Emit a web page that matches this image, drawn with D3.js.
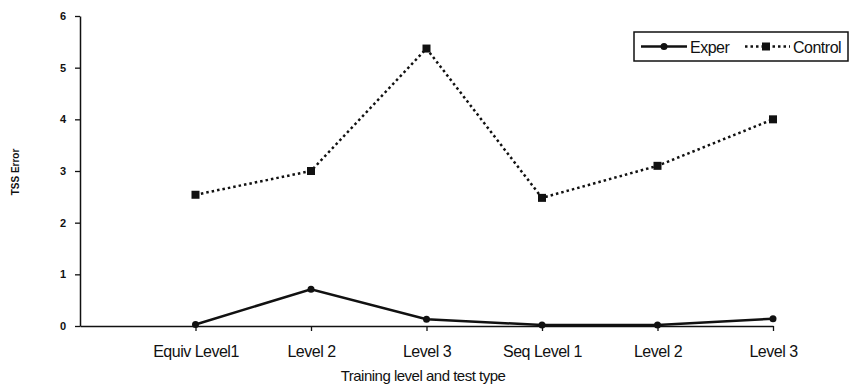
<!DOCTYPE html>
<html>
<head>
<meta charset="utf-8">
<script src="https://cdn.jsdelivr.net/npm/d3@7"></script>
<style>
body { margin: 0; background: #fff; }
text { font-family: "Liberation Sans", Arial, sans-serif; fill: #111; }
</style>
</head>
<body>
<script>
var w = 849;
var h = 387;

// categories along the x axis (first slot is left empty, like the original)
var categories = ["Equiv Level1", "Level 2", "Level 3", "Seq Level 1", "Level 2", "Level 3"];
var exper = [0.03, 0.71, 0.13, 0.02, 0.02, 0.14];
var control = [2.54, 3.0, 5.37, 2.48, 3.1, 4.0];
var yTicks = [0, 1, 2, 3, 4, 5, 6];

var svg = d3.select("body")
            .append("svg")
            .attr("width", w)
            .attr("height", h);

// x: index 0 is the axis itself, categories sit on 1..6
var xScale = d3.scaleLinear()
               .domain([0, categories.length])
               .range([80, 773]);

var yScale = d3.scaleLinear()
               .domain([0, 6])
               .range([326, 16]);

// x axis
var xAxis = d3.axisBottom(xScale)
              .tickValues(d3.range(1, categories.length + 1))
              .tickSize(5)
              .tickSizeOuter(0)
              .tickFormat(function (d) { return categories[d - 1]; });

var gx = svg.append("g")
    .attr("transform", "translate(0," + yScale(0) + ")")
    .call(xAxis);
gx.select(".domain").attr("stroke", "#111").attr("stroke-width", 1.5);
gx.selectAll(".tick line").attr("stroke", "#111").attr("stroke-width", 1.3);
gx.selectAll(".tick text")
  .attr("dy", 0)
  .attr("y", 31)
  .style("font-size", "16px")
  .style("letter-spacing", "-0.5px");

// y axis
var yAxis = d3.axisLeft(yScale)
              .tickValues(yTicks)
              .tickSize(5)
              .tickSizeOuter(0)
              .tickPadding(9)
              .tickFormat(d3.format("d"));

var gy = svg.append("g")
    .attr("transform", "translate(" + xScale(0) + ",0)")
    .call(yAxis);
gy.select(".domain").attr("stroke", "#111").attr("stroke-width", 1.5);
gy.selectAll(".tick line").attr("stroke", "#111").attr("stroke-width", 1.3);
gy.selectAll(".tick text")
  .style("font-size", "11px")
  .style("font-weight", "bold");

// axis titles
svg.append("text")
   .attr("x", 423)
   .attr("y", 381)
   .attr("text-anchor", "middle")
   .style("font-size", "15px")
   .style("letter-spacing", "-0.5px")
   .text("Training level and test type");

svg.append("text")
   .attr("transform", "translate(19,172) rotate(-90)")
   .attr("text-anchor", "middle")
   .style("font-size", "10px")
   .style("font-weight", "bold")
   .text("TSS Error");

var line = d3.line()
             .x(function (d, i) { return xScale(i + 1); })
             .y(function (d) { return yScale(d); });

// control series: dotted with square markers
svg.append("path")
   .datum(control)
   .attr("d", line)
   .attr("fill", "none")
   .attr("stroke", "#111")
   .attr("stroke-width", 2.5)
   .attr("stroke-dasharray", "2.5,3");

svg.selectAll(".sq")
   .data(control)
   .enter()
   .append("rect")
   .attr("class", "sq")
   .attr("x", function (d, i) { return xScale(i + 1) - 4; })
   .attr("y", function (d) { return yScale(d) - 4; })
   .attr("width", 8)
   .attr("height", 8)
   .attr("fill", "#111");

// exper series: solid with round markers
svg.append("path")
   .datum(exper)
   .attr("d", line)
   .attr("fill", "none")
   .attr("stroke", "#111")
   .attr("stroke-width", 2.5);

svg.selectAll(".dot")
   .data(exper)
   .enter()
   .append("circle")
   .attr("class", "dot")
   .attr("cx", function (d, i) { return xScale(i + 1); })
   .attr("cy", function (d) { return yScale(d); })
   .attr("r", 3.5)
   .attr("fill", "#111");

// legend
var legend = svg.append("g");
legend.append("rect")
      .attr("x", 634)
      .attr("y", 32)
      .attr("width", 214)
      .attr("height", 29)
      .attr("fill", "#fff")
      .attr("stroke", "#111")
      .attr("stroke-width", 1.5);

legend.append("line")
      .attr("x1", 641).attr("x2", 687)
      .attr("y1", 46.5).attr("y2", 46.5)
      .attr("stroke", "#111")
      .attr("stroke-width", 2.5);
legend.append("circle")
      .attr("cx", 664).attr("cy", 46.5).attr("r", 3.5)
      .attr("fill", "#111");
legend.append("text")
      .attr("x", 690).attr("y", 52.5)
      .style("font-size", "16px")
      .style("letter-spacing", "-0.5px")
      .text("Exper");

legend.append("line")
      .attr("x1", 745).attr("x2", 790)
      .attr("y1", 46.5).attr("y2", 46.5)
      .attr("stroke", "#111")
      .attr("stroke-width", 2.5)
      .attr("stroke-dasharray", "2.5,3");
legend.append("rect")
      .attr("x", 762).attr("y", 42.5)
      .attr("width", 8).attr("height", 8)
      .attr("fill", "#111");
legend.append("text")
      .attr("x", 793).attr("y", 52.5)
      .style("font-size", "16px")
      .style("letter-spacing", "-0.5px")
      .text("Control");
</script>
</body>
</html>
